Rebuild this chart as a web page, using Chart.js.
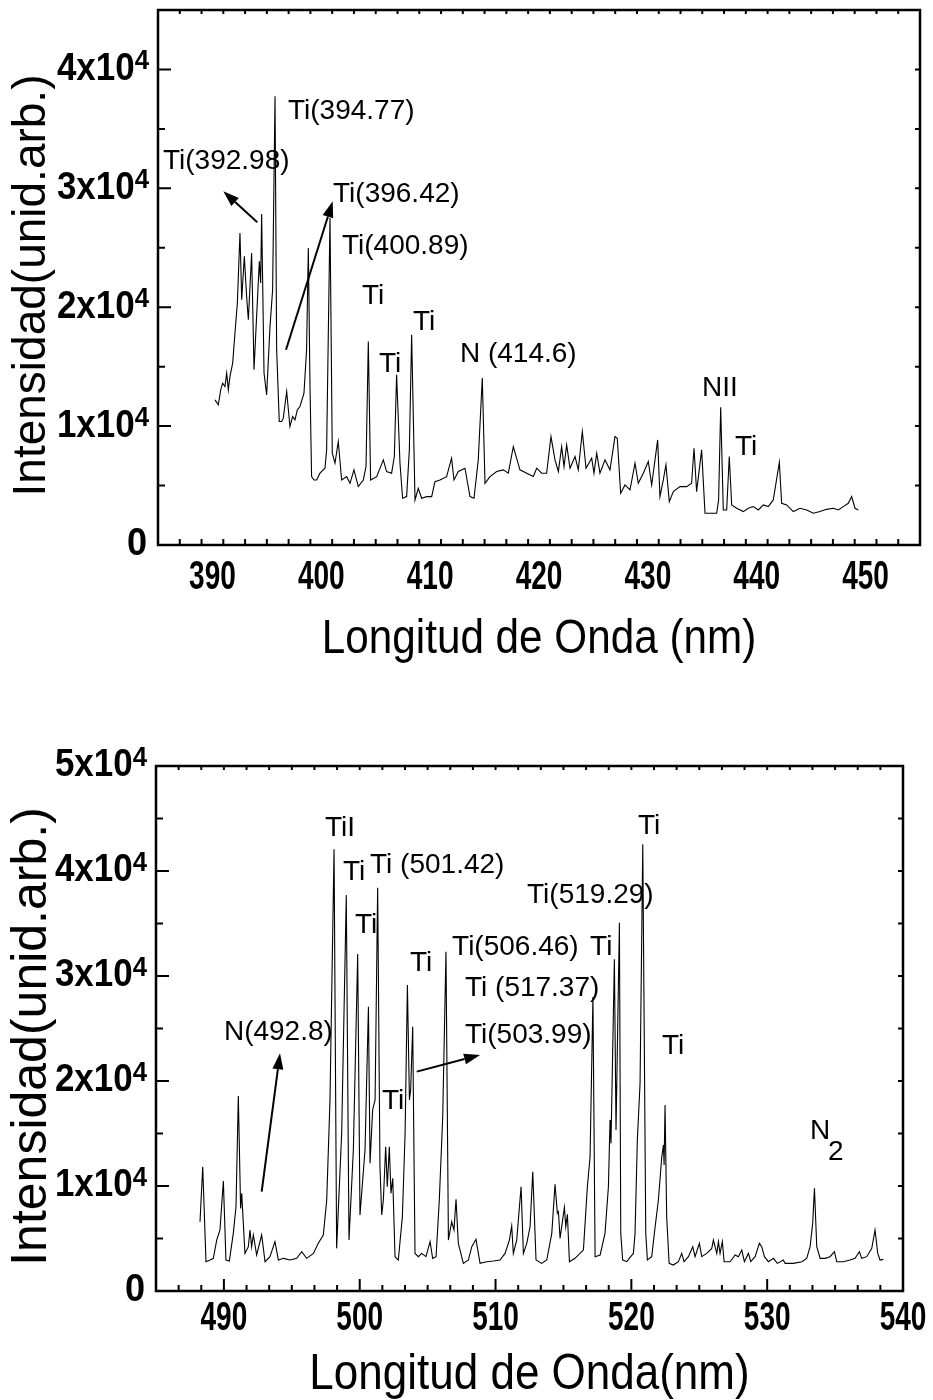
<!DOCTYPE html>
<html lang="es">
<head>
<meta charset="UTF-8">
<title>Espectros de emisión</title>
<script src="https://cdn.jsdelivr.net/npm/chart.js"></script>
<style>
  body { margin: 0; background: #fff; }
  .panel { position: relative; width: 933px; height: 700px; }
</style>
</head>
<body>
<div class="panel"><canvas id="specTop" width="933" height="700"></canvas></div>
<div class="panel"><canvas id="specBottom" width="933" height="700"></canvas></div>

<script>
// ---- top spectrum (385-455 nm) ----
const topWavelength = [
  390.24, 390.54, 390.76, 390.94, 391.15, 391.31, 391.46, 391.61, 391.86, 392.07, 392.29, 392.53, 392.69, 392.93,
  393.14, 393.30, 393.60, 393.82, 394.06, 394.31, 394.43, 394.52, 394.74, 394.98, 395.29, 395.53, 395.75, 395.90,
  396.14, 396.36, 396.51, 396.82, 397.12, 397.37, 397.58, 397.80, 398.04, 398.41, 398.65, 398.81, 398.96, 399.11,
  399.33, 399.57, 399.88, 400.34, 400.49, 400.80, 401.01, 401.26, 401.56, 401.87, 402.33, 402.64, 403.00, 403.40,
  403.86, 404.11, 404.32, 404.53, 405.09, 405.70, 406.00, 406.46, 406.71, 406.92, 407.23, 407.47, 407.84, 408.09,
  408.30, 408.61, 408.91, 409.22, 409.68, 410.14, 410.44, 410.90, 411.51, 411.97, 412.19, 412.59, 413.20, 413.66,
  414.03, 414.42, 414.79, 415.04, 415.50, 416.11, 416.72, 417.18, 417.64, 418.25, 418.87, 419.48, 419.79, 420.24,
  420.70, 421.10, 421.47, 421.78, 422.08, 422.30, 422.54, 422.85, 423.31, 423.61, 423.98, 424.32, 424.84, 425.05,
  425.30, 425.60, 426.06, 426.52, 426.98, 427.19, 427.50, 427.90, 428.36, 428.82, 429.12, 429.58, 430.04, 430.35,
  430.90, 431.11, 431.42, 431.66, 431.97, 432.34, 432.95, 433.56, 434.02, 434.24, 434.48, 434.94, 435.25, 435.71,
  436.32, 436.50, 436.69, 436.93, 437.24, 437.48, 437.70, 438.16, 438.77, 439.23, 439.69, 440.15, 440.61, 441.06,
  441.52, 442.08, 442.29, 442.75, 443.36, 443.97, 444.59, 445.20, 445.81, 446.42, 447.04, 447.49, 447.95, 448.41,
  448.72, 449.03, 449.33
];
const topIntensity = [
  12210, 11790, 13050, 13610, 13330, 14460, 13050, 14180, 15300, 17830, 20350, 26250, 20630, 24280,
  20910, 18950, 24560, 14740, 19230, 23860, 22040, 27850, 14460, 12630, 18390, 21470, 37750, 16420,
  10390, 10390, 10670, 12910, 9970, 10810, 10530, 11370, 11650, 12770, 16420, 24980, 13610, 5750,
  5470, 5470, 6040, 6460, 8000, 27510, 7720, 6880, 8700, 5470, 5750, 5190, 6320, 4910,
  5470, 6600, 17120, 5470, 5750, 7160, 6180, 6040, 7440, 14320, 6880, 3930, 4070, 8000,
  17680, 3790, 4770, 3930, 4070, 4070, 5330, 5470, 5750, 7300, 5470, 6180, 6460, 4070,
  3930, 7160, 14040, 5190, 5750, 6180, 6320, 6040, 8280, 6320, 6040, 5760, 6460, 6040,
  6040, 9120, 7160, 6180, 8280, 6600, 8420, 6460, 7440, 6320, 9540, 6460, 7300, 6040,
  7720, 6040, 7160, 6320, 9120, 8980, 4350, 5050, 4630, 6880, 5190, 6040, 7020, 5050,
  8840, 4070, 5470, 6740, 3650, 4490, 4910, 4910, 5190, 8140, 4490, 8000, 2670, 2670,
  2670, 3790, 11590, 2950, 2950, 7440, 3370, 3090, 2810, 3090, 3230, 2950, 3370, 3230,
  3790, 6960, 3510, 3370, 2810, 3090, 2950, 2670, 2810, 3000, 3090, 2950, 3230, 3510,
  4070, 3090, 2950
];

// ---- bottom spectrum (485-540 nm) ----
const bottomWavelength = [
  488.24, 488.44, 488.68, 488.98, 489.22, 489.47, 489.71, 489.96, 490.15, 490.40, 490.69, 490.89, 491.06, 491.23,
  491.31, 491.55, 491.80, 491.92, 492.04, 492.17, 492.41, 492.78, 493.03, 493.39, 493.76, 494.01, 494.38, 494.87,
  495.36, 495.73, 496.09, 496.59, 496.95, 497.32, 497.57, 497.81, 498.11, 498.30, 498.67, 499.01, 499.21, 499.53,
  499.85, 500.02, 500.39, 500.64, 500.76, 500.95, 501.13, 501.32, 501.49, 501.62, 501.74, 501.91, 502.03, 502.18,
  502.30, 502.43, 502.60, 502.84, 503.14, 503.34, 503.51, 503.66, 503.75, 503.90, 504.07, 504.32, 504.56, 504.88,
  505.18, 505.37, 505.62, 505.86, 506.11, 506.35, 506.53, 506.77, 506.94, 507.09, 507.26, 507.63, 508.00, 508.25,
  508.56, 508.86, 509.35, 509.84, 510.33, 510.70, 511.02, 511.19, 511.31, 511.56, 511.88, 512.05, 512.30, 512.54,
  512.74, 512.98, 513.40, 513.77, 514.14, 514.38, 514.55, 514.63, 514.75, 515.07, 515.17, 515.29, 515.44, 515.85,
  516.22, 516.47, 516.76, 516.96, 517.17, 517.33, 517.70, 518.06, 518.31, 518.43, 518.50, 518.75, 518.87, 519.12,
  519.22, 519.36, 519.66, 519.95, 520.15, 520.27, 520.44, 520.64, 520.84, 521.06, 521.18, 521.50, 521.75, 521.99,
  522.24, 522.36, 522.41, 522.48, 522.60, 522.78, 523.09, 523.46, 523.71, 523.88, 524.20, 524.52, 524.69, 525.01,
  525.18, 525.55, 525.92, 526.04, 526.29, 526.41, 526.53, 526.70, 526.83, 527.27, 527.64, 527.88, 528.13, 528.32,
  528.62, 528.79, 529.11, 529.43, 529.60, 529.80, 530.09, 530.46, 530.75, 531.19, 531.32, 531.93, 532.55, 532.91,
  533.16, 533.35, 533.48, 533.65, 533.90, 534.26, 534.63, 534.95, 535.12, 535.61, 536.10, 536.47, 536.79, 536.96,
  537.33, 537.70, 537.94, 538.14, 538.31, 538.56
];
const bottomIntensity = [
  6600, 11840, 2790, 2950, 3110, 4850, 5810, 10470, 2950, 2850, 5490, 8030, 18570, 7870,
  9300, 3580, 4220, 5810, 4220, 5330, 3430, 5330, 2790, 3270, 4700, 2950, 3110, 2950,
  3110, 3740, 3110, 3580, 4540, 5330, 8660, 18190, 42060, 4060, 15010, 37710, 4850, 13430,
  32090, 7240, 13430, 27080, 12160, 17240, 18190, 38410, 11840, 7240, 8660, 13740, 9930, 13740,
  9300, 10730, 3270, 2950, 7080, 15010, 29140, 18190, 19140, 25170, 3580, 3270, 3580, 3270,
  4700, 3110, 3270, 8660, 16600, 32320, 4850, 6600, 5810, 8730, 4540, 2630, 2950, 4220,
  4920, 2630, 2790, 2850, 2950, 3580, 4850, 6190, 3580, 4850, 9930, 3580, 4540, 6120,
  11360, 2950, 2630, 2950, 5490, 10160, 7390, 7550, 5010, 7970, 6120, 7300, 2790, 3110,
  3580, 3900, 9930, 12790, 28000, 3270, 3430, 5490, 9930, 16280, 14060, 31590, 15330, 35080,
  5490, 2950, 2790, 3270, 3580, 5490, 14380, 19780, 42540, 5490, 2950, 3270, 6120, 8660,
  12790, 13900, 12000, 17710, 7080, 2630, 2470, 2790, 3580, 2790, 3270, 4220, 3270, 4540,
  3270, 3580, 4060, 4850, 3580, 4700, 3580, 4700, 2790, 2790, 3430, 3270, 3900, 2790,
  3580, 2790, 3270, 4540, 4220, 3270, 2790, 3110, 2630, 2950, 2630, 2630, 2790, 3110,
  4220, 6440, 9780, 4220, 3110, 3110, 3270, 3740, 2790, 2790, 2950, 3110, 3740, 3110,
  3270, 4060, 5810, 3580, 2950, 3010
];

// peak labels (text, wavelength, intensity at the text's vertical middle)
const topLabelText = ['Ti(394.77)', 'Ti(392.98)', 'Ti(396.42)', 'Ti(400.89)', 'Ti', 'Ti', 'Ti', 'N (414.6)', 'NII', 'Ti'];
const topLabelX    = [396.94, 385.46, 401.08, 401.90, 403.74, 405.30, 408.42, 412.74, 434.97, 438.00];
const topLabelY    = [36460, 32250, 29470, 25100, 20880, 15240, 18700, 16000, 13220, 8250];
const topArrowFrom = [[394.12, 27140], [396.76, 16420]];
const topArrowTo   = [[391.00, 29760], [401.05, 28910]];

const bottomLabelText = ['TiI', 'Ti', 'Ti (501.42)', 'Ti', 'Ti', 'Ti(506.46)', 'Ti', 'Ti (517.37)', 'Ti(503.99)',
                         'Ti(519.29)', 'Ti', 'Ti', 'N(492.8)', 'Ti', 'N', '2'];
const bottomLabelX    = [497.44, 498.77, 500.76, 499.65, 503.70, 506.80, 516.96, 507.75, 507.75,
                         512.32, 520.49, 522.26, 490.00, 501.64, 533.16, 534.48];
const bottomLabelY    = [44100, 39910, 40570, 34860, 31240, 32760, 32760, 28860, 24380,
                         37720, 44290, 23330, 24670, 18100, 15240, 13240];
const bottomArrowFrom = [[492.78, 9460], [504.20, 20890]];
const bottomArrowTo   = [[494.13, 22640], [508.86, 22480]];

const topXTicks = [390, 400, 410, 420, 430, 440, 450];
const bottomXTicks = [490, 500, 510, 520, 530, 540];

const FONT = "'Liberation Sans', Arial, sans-serif";

function drawText(ctx, text, x, y, font, sx, align) {
  ctx.save();
  ctx.font = font;
  const w = ctx.measureText(text).width * sx;
  const x0 = align === 'center' ? x - w / 2 : align === 'right' ? x - w : x;
  ctx.translate(x0, y);
  ctx.scale(sx, 1);
  ctx.textAlign = 'left';
  ctx.fillText(text, 0, 0);
  ctx.restore();
  return w;
}

function arrow(ctx, x1, y1, x2, y2) {
  const ang = Math.atan2(y2 - y1, x2 - x1);
  const hl = 16, hw = 5.5;
  const bx = x2 - hl * Math.cos(ang), by = y2 - hl * Math.sin(ang);
  ctx.lineWidth = 2;
  ctx.beginPath();
  ctx.moveTo(x1, y1);
  ctx.lineTo(bx, by);
  ctx.stroke();
  ctx.beginPath();
  ctx.moveTo(x2, y2);
  ctx.lineTo(bx + hw * Math.sin(ang), by - hw * Math.cos(ang));
  ctx.lineTo(bx - hw * Math.sin(ang), by + hw * Math.cos(ang));
  ctx.closePath();
  ctx.fill();
}

function near(v, step) {
  return Math.abs(v / step - Math.round(v / step)) < 1e-6;
}

// Origin-like frame, inward ticks, labels and annotations
const originStyle = {
  id: 'originStyle',
  afterDraw(chart, args, o) {
    const ctx = chart.ctx, a = chart.chartArea;
    const xs = chart.scales.x, ys = chart.scales.y;
    ctx.save();
    ctx.strokeStyle = '#000';
    ctx.fillStyle = '#000';
    ctx.textBaseline = 'middle';

    // frame
    ctx.lineWidth = 2.5;
    ctx.strokeRect(a.left, a.top, a.right - a.left, a.bottom - a.top);

    // ticks (inward)
    ctx.lineWidth = 2;
    ctx.beginPath();
    xs.ticks.forEach(t => {
      const px = xs.getPixelForValue(t.value);
      const major = near(t.value, 10);
      ctx.moveTo(px, a.bottom); ctx.lineTo(px, a.bottom - (major ? 12 : 6));
      ctx.moveTo(px, a.top); ctx.lineTo(px, a.top + 4);
    });
    ys.ticks.forEach(t => {
      const py = ys.getPixelForValue(t.value);
      const major = near(t.value, 10000);
      ctx.moveTo(a.left, py); ctx.lineTo(a.left + (major ? 13 : 7), py);
      ctx.moveTo(a.right, py); ctx.lineTo(a.right - 5, py);
    });
    ctx.stroke();

    // x tick labels
    o.xLabels.forEach(v => {
      drawText(ctx, String(v), xs.getPixelForValue(v), a.bottom + o.xLabelGap,
        'bold 40px ' + FONT, 0.7, 'center');
    });

    // y tick labels  n x 10^4
    ys.ticks.forEach(t => {
      if (!near(t.value, 10000)) return;
      const py = ys.getPixelForValue(t.value);
      const right = a.left - 9;
      const n = Math.round(t.value / 10000);
      if (n === 0) {
        drawText(ctx, '0', right - 2, py, 'bold 38px ' + FONT, 0.95, 'right');
        return;
      }
      ctx.font = 'bold 28px ' + FONT;
      const supW = ctx.measureText('4').width * 0.92;
      drawText(ctx, n + 'x10', right - supW, py, 'bold 38px ' + FONT, 0.92, 'right');
      drawText(ctx, '4', right - supW, py - 8, 'bold 28px ' + FONT, 0.92, 'left');
    });

    // axis titles
    drawText(ctx, o.xTitle, (a.left + a.right) / 2, a.bottom + o.xTitleGap,
      o.xTitleSize + 'px ' + FONT, 0.88, 'center');
    ctx.save();
    ctx.translate(o.yTitleX, (a.top + a.bottom) / 2 + 8);
    ctx.rotate(-Math.PI / 2);
    drawText(ctx, o.yTitle, 0, 0, o.yTitleSize + 'px ' + FONT, o.yTitleScale, 'center');
    ctx.restore();

    // peak labels
    o.labelText.forEach((txt, i) => {
      drawText(ctx, txt, xs.getPixelForValue(o.labelX[i]), ys.getPixelForValue(o.labelY[i]),
        '28px ' + FONT, 1, 'left');
    });

    // arrows
    o.arrowFrom.forEach((f, i) => {
      const t = o.arrowTo[i];
      arrow(ctx, xs.getPixelForValue(f[0]), ys.getPixelForValue(f[1]),
        xs.getPixelForValue(t[0]), ys.getPixelForValue(t[1]));
    });
    ctx.restore();
  }
};

function makeSpectrum(canvasId, wl, inten, cfg) {
  return new Chart(document.getElementById(canvasId), {
    type: 'line',
    data: {
      datasets: [{
        data: wl.map((w, i) => ({ x: w, y: inten[i] })),
        borderColor: '#000',
        borderWidth: 1.1,
        pointRadius: 0,
        tension: 0,
        fill: false
      }]
    },
    options: {
      responsive: false,
      devicePixelRatio: 1,
      animation: false,
      layout: { padding: cfg.padding },
      plugins: {
        legend: { display: false },
        tooltip: { enabled: false },
        originStyle: cfg.style
      },
      scales: {
        x: {
          type: 'linear', min: cfg.xMin, max: cfg.xMax,
          ticks: { stepSize: cfg.xStep, display: false },
          grid: { display: false }, border: { display: false },
          afterFit: s => { s.height = cfg.xAxisHeight; }
        },
        y: {
          type: 'linear', min: 0, max: cfg.yMax,
          ticks: { stepSize: 5000, display: false },
          grid: { display: false }, border: { display: false },
          afterFit: s => { s.width = cfg.yAxisWidth; }
        }
      }
    },
    plugins: [originStyle]
  });
}

makeSpectrum('specTop', topWavelength, topIntensity, {
  padding: { top: 10, right: 13, left: 0, bottom: 0 },
  xMin: 385, xMax: 455, xStep: 2, yMax: 45000,
  xAxisHeight: 155, yAxisWidth: 158,
  style: {
    xLabels: topXTicks, xLabelGap: 33, xTitleGap: 95,
    xTitle: 'Longitud de Onda (nm)', xTitleSize: 48,
    yTitle: 'Intensidad(unid.arb.)', yTitleSize: 46, yTitleScale: 1.0, yTitleX: 32,
    labelText: topLabelText, labelX: topLabelX, labelY: topLabelY,
    arrowFrom: topArrowFrom, arrowTo: topArrowTo
  }
});

makeSpectrum('specBottom', bottomWavelength, bottomIntensity, {
  padding: { top: 66, right: 30, left: 0, bottom: 0 },
  xMin: 485, xMax: 540, xStep: 5 / 3, yMax: 50000,
  xAxisHeight: 109, yAxisWidth: 156,
  style: {
    xLabels: bottomXTicks, xLabelGap: 28, xTitleGap: 84,
    xTitle: 'Longitud de Onda(nm)', xTitleSize: 50,
    yTitle: 'Intensidad(unid.arb.)', yTitleSize: 50, yTitleScale: 1.0, yTitleX: 32,
    labelText: bottomLabelText, labelX: bottomLabelX, labelY: bottomLabelY,
    arrowFrom: bottomArrowFrom, arrowTo: bottomArrowTo
  }
});
</script>
</body>
</html>
